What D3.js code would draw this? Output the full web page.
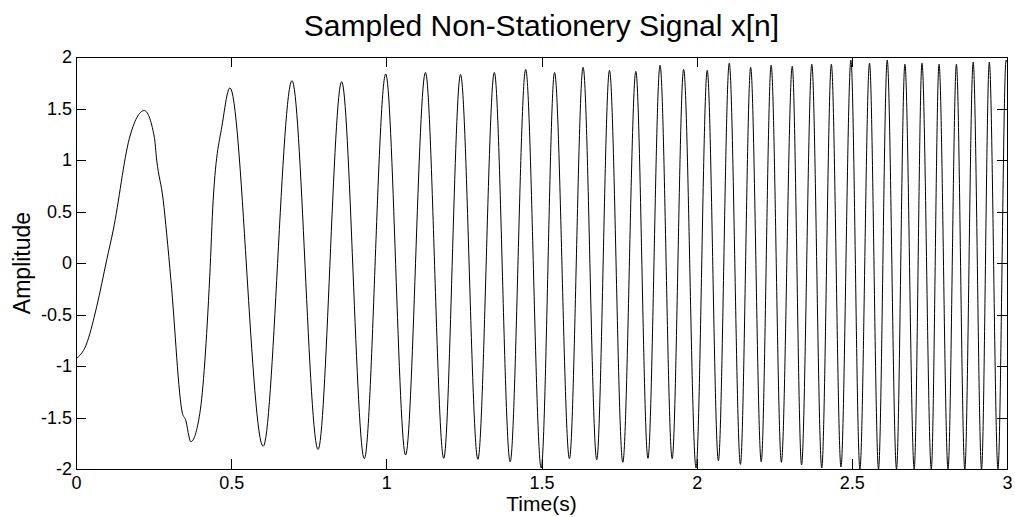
<!DOCTYPE html>
<html>
<head>
<meta charset="utf-8">
<script src="https://cdn.jsdelivr.net/npm/d3@7"></script>
<style>
  html, body { margin: 0; padding: 0; background: #fff; }
  svg { display: block; font-family: "Liberation Sans", Arial, sans-serif; }
  .axis path, .axis line { stroke: #000; shape-rendering: crispEdges; }
  .axis text { fill: #000; font-size: 18px; }
</style>
</head>
<body>
<div id="container"></div>
<script>
const width = 1015,
  height = 517,
  margin = { top: 57, right: 7, bottom: 48, left: 76 };

// first cycle, read point by point (slow start of the chirp)
const onsetTime = [0, 0.032, 0.067, 0.099, 0.12, 0.172, 0.252, 0.26, 0.281, 0.292, 0.306, 0.343, 0.353,
  0.399, 0.431, 0.442, 0.472];
const onsetAmp = [-0.93, -0.8, -0.42, 0.03, 0.32, 1.21, 1.23, 1.0, 0.61, 0.29, -0.17, -1.46, -1.52,
  -1.46, -0.13, 0.61, 1.36];

// local maxima of x[n]
const peakTime = [0.22, 0.496, 0.696, 0.856, 0.998, 1.126, 1.239, 1.348, 1.449, 1.542, 1.634, 1.719,
  1.804, 1.882, 1.958, 2.034, 2.105, 2.174, 2.24, 2.308, 2.371, 2.434, 2.497, 2.557, 2.614, 2.671,
  2.726, 2.781, 2.837, 2.891, 2.943, 2.997];
const peakAmp = [1.48, 1.70, 1.77, 1.76, 1.835, 1.85, 1.83, 1.85, 1.88, 1.85, 1.90, 1.87,
  1.86, 1.92, 1.88, 1.87, 1.94, 1.90, 1.92, 1.91, 1.93, 1.93, 1.97, 1.94, 1.97, 1.93,
  1.94, 1.93, 1.93, 1.95, 1.95, 1.97];

// local minima of x[n]
const troughTime = [0.37, 0.603, 0.78, 0.929, 1.062, 1.185, 1.295, 1.399, 1.499, 1.59, 1.678, 1.762,
  1.843, 1.921, 1.998, 2.07, 2.141, 2.208, 2.273, 2.338, 2.403, 2.465, 2.526, 2.586, 2.644, 2.701,
  2.756, 2.81, 2.864, 2.918, 2.971];
const troughAmp = [-1.735, -1.78, -1.81, -1.90, -1.864, -1.896, -1.906, -1.93, -1.99, -1.90, -1.91, -1.935,
  -1.896, -1.90, -1.99, -1.92, -1.955, -1.93, -1.935, -1.96, -1.99, -1.98, -2, -2, -2, -2,
  -2, -2, -2, -2, -2];

const endTime = [3.0];
const endAmp = [1.95];

const xTicks = [0, 0.5, 1, 1.5, 2, 2.5, 3];
const yTicks = [-2, -1.5, -1, -0.5, 0, 0.5, 1, 1.5, 2];

const titleText = "Sampled Non-Stationery Signal x[n]";
const xLabel = "Time(s)";
const yLabel = "Amplitude";

// merge everything into one time-ordered series
const signal = []
  .concat(onsetTime.map((t, i) => ({ t, v: onsetAmp[i] })))
  .concat(peakTime.map((t, i) => ({ t, v: peakAmp[i] })))
  .concat(troughTime.map((t, i) => ({ t, v: troughAmp[i] })))
  .concat(endTime.map((t, i) => ({ t, v: endAmp[i] })))
  .sort((a, b) => a.t - b.t);

const svg = d3.select("#container")
  .append("svg")
  .attr("width", width)
  .attr("height", height);

const xScale = d3.scaleLinear()
  .domain([0, 3])
  .range([margin.left, width - margin.right - 1]);

const yScale = d3.scaleLinear()
  .domain([-2, 2])
  .range([height - margin.bottom, margin.top]);

// clip like the axes box does
svg.append("clipPath")
  .attr("id", "plotClip")
  .append("rect")
  .attr("x", xScale(0))
  .attr("y", yScale(2))
  .attr("width", xScale(3) - xScale(0))
  .attr("height", yScale(-2) - yScale(2));

const lineGen = d3.line()
  .x(d => xScale(d.t))
  .y(d => yScale(d.v))
  .curve(d3.curveMonotoneX);

svg.append("path")
  .datum(signal)
  .attr("clip-path", "url(#plotClip)")
  .attr("fill", "none")
  .attr("stroke", "#000")
  .attr("stroke-width", 1)
  .attr("d", lineGen);

// axes, MATLAB style: ticks pointing in, box on all four sides
const fmt = d => String(d);

svg.append("g")
  .attr("class", "axis")
  .attr("transform", `translate(0, ${yScale(-2)})`)
  .call(d3.axisBottom(xScale).tickValues(xTicks).tickFormat(fmt).tickSize(-10).tickSizeOuter(0).tickPadding(7));

svg.append("g")
  .attr("class", "axis")
  .attr("transform", `translate(0, ${yScale(2)})`)
  .call(d3.axisTop(xScale).tickValues(xTicks).tickFormat("").tickSize(-10).tickSizeOuter(0));

svg.append("g")
  .attr("class", "axis")
  .attr("transform", `translate(${xScale(0)}, 0)`)
  .call(d3.axisLeft(yScale).tickValues(yTicks).tickFormat(fmt).tickSize(-10).tickSizeOuter(0).tickPadding(4));

svg.append("g")
  .attr("class", "axis")
  .attr("transform", `translate(${xScale(3)}, 0)`)
  .call(d3.axisRight(yScale).tickValues(yTicks).tickFormat("").tickSize(-10).tickSizeOuter(0));

// titles
svg.append("text")
  .attr("x", (xScale(0) + xScale(3)) / 2)
  .attr("y", 36)
  .attr("text-anchor", "middle")
  .attr("font-size", 30)
  .text(titleText);

svg.append("text")
  .attr("x", (xScale(0) + xScale(3)) / 2)
  .attr("y", 511)
  .attr("text-anchor", "middle")
  .attr("font-size", 21)
  .text(xLabel);

svg.append("text")
  .attr("transform", `translate(30, ${(yScale(-2) + yScale(2)) / 2}) rotate(-90)`)
  .attr("text-anchor", "middle")
  .attr("font-size", 23)
  .text(yLabel);
</script>
</body>
</html>
